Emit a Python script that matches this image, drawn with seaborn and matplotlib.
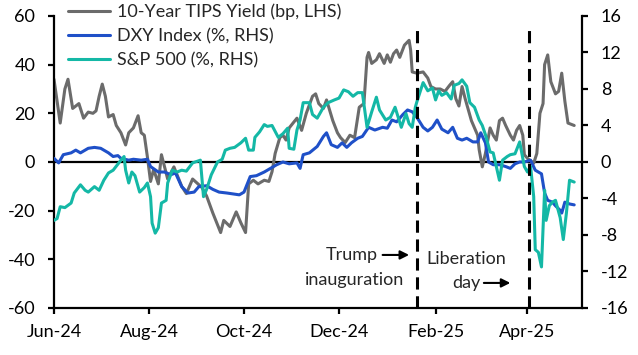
import pandas as pd
import seaborn as sns
import matplotlib.pyplot as plt
import matplotlib.dates as mdates

# 10-Year TIPS yield, change in bp (LHS)
tips_dates = [
    '2024-06-01', '2024-06-03', '2024-06-05', '2024-06-08', '2024-06-10', '2024-06-13',
    '2024-06-17', '2024-06-20', '2024-06-23', '2024-06-26', '2024-06-28', '2024-06-30',
    '2024-07-02', '2024-07-04', '2024-07-06', '2024-07-09', '2024-07-11', '2024-07-14',
    '2024-07-17', '2024-07-19', '2024-07-22', '2024-07-25', '2024-07-27', '2024-07-29',
    '2024-07-31', '2024-08-02', '2024-08-04', '2024-08-07', '2024-08-09', '2024-08-13',
    '2024-08-17', '2024-08-22', '2024-08-25', '2024-08-29', '2024-09-04', '2024-09-07',
    '2024-09-11', '2024-09-16', '2024-09-18', '2024-09-22', '2024-09-26', '2024-09-29',
    '2024-10-02', '2024-10-04', '2024-10-07', '2024-10-10', '2024-10-14', '2024-10-17',
    '2024-10-19', '2024-10-21', '2024-10-24', '2024-10-26', '2024-10-28', '2024-10-30',
    '2024-11-04', '2024-11-07', '2024-11-10', '2024-11-14', '2024-11-16', '2024-11-18',
    '2024-11-21', '2024-11-23', '2024-11-27', '2024-11-30', '2024-12-02', '2024-12-05',
    '2024-12-08', '2024-12-11', '2024-12-14', '2024-12-17', '2024-12-19', '2024-12-20',
    '2024-12-22', '2024-12-25', '2024-12-27', '2024-12-30', '2025-01-01', '2025-01-03',
    '2025-01-05', '2025-01-07', '2025-01-09', '2025-01-12', '2025-01-15', '2025-01-16',
    '2025-01-17', '2025-01-20', '2025-01-24', '2025-01-27', '2025-01-29', '2025-02-01',
    '2025-02-04', '2025-02-07', '2025-02-10', '2025-02-12', '2025-02-14', '2025-02-16',
    '2025-02-18', '2025-02-20', '2025-02-24', '2025-02-26', '2025-02-28', '2025-03-01',
    '2025-03-03', '2025-03-05', '2025-03-08', '2025-03-10', '2025-03-12', '2025-03-14',
    '2025-03-16', '2025-03-18', '2025-03-21', '2025-03-23', '2025-03-25', '2025-03-27',
    '2025-03-29', '2025-03-30', '2025-04-01', '2025-04-05', '2025-04-07', '2025-04-09',
    '2025-04-11', '2025-04-12', '2025-04-14', '2025-04-16', '2025-04-19', '2025-04-21',
    '2025-04-23', '2025-04-25', '2025-04-27', '2025-05-01',
]
tips_bp = [
    34, 25, 16, 30, 34, 22,
    24, 18, 20.5, 20, 21, 27,
    32, 27, 18.5, 19.5, 15, 12,
    7, 12, 14, 19, 12, 11,
    2, -8, -3, -9, 3, -7,
    -2, -10, -13, -7, -10.5, -14,
    -21, -29, -24, -26.5, -20.5, -25,
    -29, -9, -7.5, -9, -7.5, -8,
    -4, 3.5, 10, 11, 9, 14,
    18, 13, 20, 27, 28, 24,
    22, 25.5, 17, 12, 10, 8,
    11, 10, 22.5, 24, 43, 45,
    40.5, 42, 44.5, 40.5, 44, 41,
    44.5, 46, 43, 48, 50, 46,
    37, 36.5, 37, 34.5, 31, 30,
    30, 29, 31.5, 33, 26, 23,
    31, 26, 17, 14, 11, 5,
    -2, 3.5, 14, 11, 9, 17,
    18, 15, 11, 9, 13, 15,
    11, 3, 1.5, -0.5, 3.5, 20,
    24, 40, 44, 33, 28, 29,
    36.5, 25, 16, 15,
]

# DXY index, % change (RHS)
dxy_dates = [
    '2024-06-01', '2024-06-04', '2024-06-07', '2024-06-12', '2024-06-15', '2024-06-18',
    '2024-06-23', '2024-06-27', '2024-07-01', '2024-07-06', '2024-07-09', '2024-07-12',
    '2024-07-14', '2024-07-19', '2024-07-22', '2024-07-27', '2024-07-31', '2024-08-02',
    '2024-08-07', '2024-08-11', '2024-08-15', '2024-08-18', '2024-08-22', '2024-08-26',
    '2024-08-30', '2024-09-02', '2024-09-07', '2024-09-11', '2024-09-15', '2024-09-20',
    '2024-09-24', '2024-09-28', '2024-10-01', '2024-10-05', '2024-10-09', '2024-10-14',
    '2024-10-17', '2024-10-22', '2024-10-26', '2024-10-30', '2024-11-04', '2024-11-06',
    '2024-11-08', '2024-11-12', '2024-11-17', '2024-11-21', '2024-11-23', '2024-11-26',
    '2024-11-30', '2024-12-03', '2024-12-06', '2024-12-09', '2024-12-13', '2024-12-16',
    '2024-12-20', '2024-12-24', '2024-12-29', '2025-01-01', '2025-01-04', '2025-01-07',
    '2025-01-11', '2025-01-14', '2025-01-17', '2025-01-20', '2025-01-24', '2025-01-27',
    '2025-01-30', '2025-02-02', '2025-02-05', '2025-02-09', '2025-02-12', '2025-02-15',
    '2025-02-18', '2025-02-21', '2025-02-25', '2025-02-28', '2025-03-02', '2025-03-05',
    '2025-03-07', '2025-03-10', '2025-03-14', '2025-03-18', '2025-03-21', '2025-03-24',
    '2025-03-27', '2025-03-30', '2025-04-03', '2025-04-06', '2025-04-08', '2025-04-10',
    '2025-04-12', '2025-04-14', '2025-04-17', '2025-04-19', '2025-04-22', '2025-04-23',
    '2025-04-25', '2025-04-28', '2025-05-01',
]
dxy_pct = [
    0.4, -0.1, 0.8, 1.0, 1.3, 1.0,
    1.5, 1.6, 1.5, 1.0, 0.6, 0.7,
    0.4, 0.2, 0.3, 0.2, 0.3, -0.5,
    -1.1, -1.1, -1.4, -1.2, -2.7, -3.4,
    -3.3, -2.7, -2.6, -3.0, -3.3, -3.4,
    -3.5, -3.6, -3.3, -1.6, -1.5, -1.1,
    -0.8, -0.3, 0.0, -0.2, -0.1, -0.7,
    0.8, 1.0, 1.7, 2.8, 3.2, 1.9,
    1.6, 2.1, 1.6, 2.1, 2.6, 2.8,
    3.8, 3.5, 3.8, 3.7, 4.6, 4.4,
    5.2, 5.7, 5.5, 4.9, 3.8, 3.4,
    3.8, 4.6, 3.6, 3.2, 3.8, 2.6,
    2.4, 2.6, 2.2, 2.2, 3.2, 2.1,
    0.0, -0.3, -0.3, -0.5, -0.7, -0.2,
    0.0, 0.0, 0.2, -0.9, -1.1, -1.3,
    -3.4, -4.2, -4.4, -4.8, -5.3, -5.6,
    -4.4, -4.6, -4.7,
]

# S&P 500, % change (RHS)
spx_dates = [
    '2024-06-01', '2024-06-03', '2024-06-05', '2024-06-08', '2024-06-12', '2024-06-14',
    '2024-06-18', '2024-06-21', '2024-06-23', '2024-06-27', '2024-06-30', '2024-07-03',
    '2024-07-06', '2024-07-09', '2024-07-14', '2024-07-16', '2024-07-17', '2024-07-19',
    '2024-07-21', '2024-07-23', '2024-07-26', '2024-07-29', '2024-07-31', '2024-08-02',
    '2024-08-03', '2024-08-05', '2024-08-07', '2024-08-09', '2024-08-12', '2024-08-13',
    '2024-08-16', '2024-08-19', '2024-08-22', '2024-08-25', '2024-08-29', '2024-09-03',
    '2024-09-05', '2024-09-07', '2024-09-10', '2024-09-14', '2024-09-17', '2024-09-19',
    '2024-09-22', '2024-09-25', '2024-09-29', '2024-10-02', '2024-10-04', '2024-10-07',
    '2024-10-08', '2024-10-11', '2024-10-14', '2024-10-16', '2024-10-19', '2024-10-23',
    '2024-10-26', '2024-10-29', '2024-10-30', '2024-11-02', '2024-11-04', '2024-11-06',
    '2024-11-08', '2024-11-12', '2024-11-14', '2024-11-17', '2024-11-21', '2024-11-24',
    '2024-11-28', '2024-12-01', '2024-12-04', '2024-12-07', '2024-12-10', '2024-12-13',
    '2024-12-16', '2024-12-19', '2024-12-22', '2024-12-25', '2024-12-27', '2024-12-31',
    '2025-01-03', '2025-01-06', '2025-01-10', '2025-01-13', '2025-01-15', '2025-01-17',
    '2025-01-19', '2025-01-20', '2025-01-24', '2025-01-27', '2025-01-30', '2025-02-01',
    '2025-02-03', '2025-02-05', '2025-02-08', '2025-02-11', '2025-02-13', '2025-02-16',
    '2025-02-18', '2025-02-21', '2025-02-23', '2025-02-26', '2025-03-01', '2025-03-03',
    '2025-03-05', '2025-03-08', '2025-03-10', '2025-03-12', '2025-03-14', '2025-03-16',
    '2025-03-19', '2025-03-21', '2025-03-24', '2025-03-27', '2025-03-28', '2025-03-30',
    '2025-04-01', '2025-04-03', '2025-04-05', '2025-04-06', '2025-04-08', '2025-04-10',
    '2025-04-12', '2025-04-13', '2025-04-15', '2025-04-17', '2025-04-19', '2025-04-22',
    '2025-04-24', '2025-04-26', '2025-04-28', '2025-05-01',
]
spx_pct = [
    -6.4, -6.2, -4.9, -5.0, -4.5, -3.4,
    -2.5, -3.1, -3.3, -2.7, -3.1, -2.0,
    -1.2, -0.9, 0.2, 0.6, -0.9, -2.3,
    -1.1, -1.5, -3.3, -2.8, -2.3, -3.8,
    -6.7, -7.8, -7.2, -4.5, -4.2, -2.3,
    -0.9, -1.1, -0.9, -1.0, -0.1, 0.2,
    -3.8, -3.0, -1.4, 0.0, 0.3, 1.3,
    1.5, 1.6, 2.1, 2.6, 1.3, 1.3,
    2.7, 3.3, 4.1, 3.9, 4.0, 2.7,
    3.1, 3.7, 1.5, 1.4, 3.5, 4.6,
    6.5, 6.5, 5.2, 4.8, 6.0, 6.5,
    6.8, 7.0, 7.9, 7.7, 7.2, 7.6,
    7.6, 3.8, 5.5, 7.1, 5.7, 4.6,
    4.9, 6.0, 3.8, 5.3, 4.2, 3.8,
    6.0, 6.6, 8.7, 7.8, 8.1, 6.8,
    7.8, 7.3, 7.6, 6.9, 8.4, 8.6,
    9.0, 8.3, 6.5, 6.0, 4.6, 4.0,
    3.0, 1.1, 1.0, -0.5, -2.0, 0.2,
    0.6, 0.8, 0.9, 2.2, 1.3, -0.5,
    -1.1, -0.5, -3.8, -9.6, -9.9, -11.5,
    -3.1, -6.4, -4.8, -4.4, -4.2, -6.1,
    -8.5, -5.6, -2.0, -2.2,
]

event_dates = ['2025-01-20', '2025-04-02']

grey = '#6b6b6b'
blue = '#1f50c8'
teal = '#14b8a6'

sns.set_style('ticks')
plt.rcParams['font.family'] = ['Lato', 'DejaVu Sans']
plt.rcParams['axes.unicode_minus'] = False
fs = 13

tips = pd.DataFrame({'date': pd.to_datetime(tips_dates), 'value': tips_bp})
dxy = pd.DataFrame({'date': pd.to_datetime(dxy_dates), 'value': dxy_pct})
spx = pd.DataFrame({'date': pd.to_datetime(spx_dates), 'value': spx_pct})

fig = plt.figure(figsize=(6.38, 3.55), dpi=100)
ax = fig.add_axes([0.0846, 0.1324, 0.8276, 0.8226])
ax2 = ax.twinx()

sns.lineplot(data=tips, x='date', y='value', ax=ax, color=grey, lw=2.2,
             label='10-Year TIPS Yield (bp, LHS)', legend=False)
sns.lineplot(data=dxy, x='date', y='value', ax=ax2, color=blue, lw=2.2,
             label='DXY Index (%, RHS)', legend=False)
sns.lineplot(data=spx, x='date', y='value', ax=ax2, color=teal, lw=2.2,
             label='S&P 500 (%, RHS)', legend=False)

ax.axhline(0, color='black', lw=1.6, zorder=1)
for d in event_dates:
    ax2.axvline(pd.Timestamp(d), ymin=0, ymax=0.97, color='black', lw=2.2,
                linestyle=(0, (4, 2.2)), zorder=5)

ax.set_xlim(pd.Timestamp('2024-06-01'), pd.Timestamp('2025-05-06'))
ax.set_ylim(-60, 60)
ax.set_yticks(range(-60, 61, 20))
ax2.set_ylim(-16, 16)
ax2.set_yticks(range(-16, 17, 4))

ax.xaxis.set_major_locator(mdates.MonthLocator(bymonth=[2, 4, 6, 8, 10, 12]))
ax.xaxis.set_major_formatter(mdates.DateFormatter('%b-%y'))

for a in (ax, ax2):
    a.set_xlabel('')
    a.set_ylabel('')
    a.spines['top'].set_visible(False)
    for s in a.spines.values():
        s.set_color('black')
        s.set_linewidth(1.6)
ax.spines['right'].set_visible(False)
ax2.spines['left'].set_visible(False)
ax2.spines['bottom'].set_visible(False)

ax.tick_params(axis='both', direction='out', length=4.5, width=1.6,
               labelsize=fs, color='black', labelcolor='black')
ax.tick_params(axis='y', pad=9)
ax.tick_params(axis='x', pad=7)
ax2.tick_params(axis='y', direction='out', length=4.5, width=1.6,
                labelsize=fs, pad=9, color='black', labelcolor='black')

# annotations
arrow = dict(arrowstyle='-|>', color='black', lw=1.5, mutation_scale=13,
             shrinkA=0, shrinkB=0)
ax.text(pd.Timestamp('2024-12-26'), -38.2, 'Trump', ha='right', va='center', fontsize=fs)
ax.annotate('', xy=(pd.Timestamp('2025-01-15'), -38.2),
            xytext=(pd.Timestamp('2024-12-29'), -38.2), arrowprops=arrow)
ax.text(pd.Timestamp('2025-01-12'), -48.5, 'inauguration', ha='right', va='center', fontsize=fs)
ax.text(pd.Timestamp('2025-02-21'), -40, 'Liberation', ha='center', va='center', fontsize=fs)
ax.text(pd.Timestamp('2025-03-02'), -49.7, 'day', ha='right', va='center', fontsize=fs)
ax.annotate('', xy=(pd.Timestamp('2025-03-21'), -49.7),
            xytext=(pd.Timestamp('2025-03-04'), -49.7), arrowprops=arrow)

handles = ax.get_lines()[:1] + ax2.get_lines()[:2]
fig.legend(handles=handles, labels=[h.get_label() for h in handles],
           loc='upper left', bbox_to_anchor=(0.107, 0.99), frameon=False,
           fontsize=fs, handlelength=2.3, handletextpad=0.4, labelspacing=0.45,
           borderpad=0, borderaxespad=0)

fig.savefig('out.png', dpi=100)
